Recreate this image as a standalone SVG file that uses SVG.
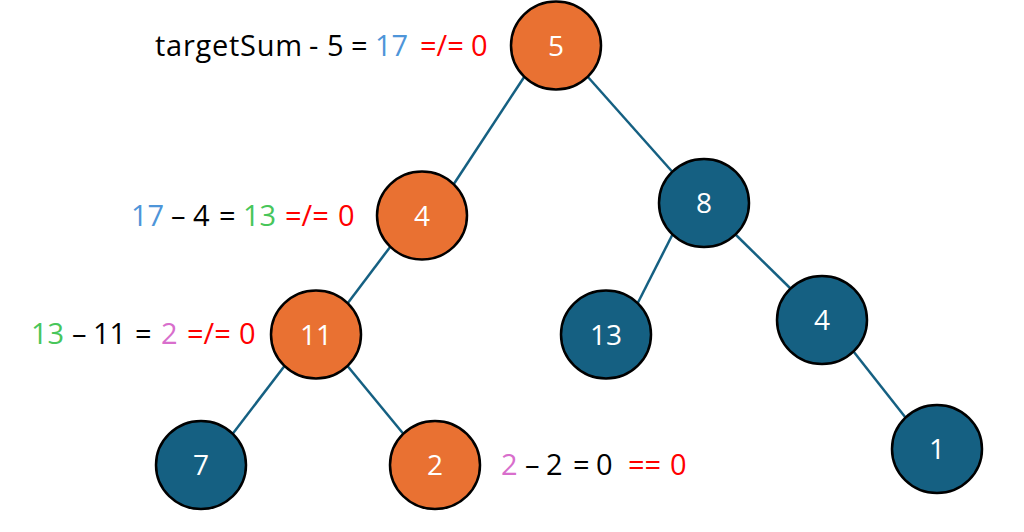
<svg xmlns="http://www.w3.org/2000/svg" width="1024" height="532" viewBox="0 0 1024 532">
<style>
.bg{fill:#ffffff}
.edge{stroke:#156082;stroke-width:2.5;fill:none}
.node{stroke:#000000;stroke-width:2.5}
.on{fill:#E97132}
.bn{fill:#156082}
.nt{font-family:"Open Sans","Liberation Sans",Arial,sans-serif;font-size:28px;fill:#ffffff;text-anchor:middle}
.lbl{font-family:"Open Sans","Liberation Sans",Arial,sans-serif;font-size:29px;fill:#000000}
.blue{fill:#4E95D9}
.green{fill:#47C65A}
.pink{fill:#D86ECC}
.red{fill:#FF0000}
</style>
<rect class="bg" x="0" y="0" width="1024" height="532"/>
<g id="connectors">
<line class="edge" x1="524.5" y1="76.5" x2="453.5" y2="184.5"/>
<line class="edge" x1="587.5" y1="76.5" x2="672.5" y2="172"/>
<line class="edge" x1="390.5" y1="246.5" x2="347.5" y2="303.5"/>
<line class="edge" x1="672.5" y1="234.5" x2="637.5" y2="303.5"/>
<line class="edge" x1="735.5" y1="234.5" x2="790.5" y2="288.5"/>
<line class="edge" x1="853.5" y1="351.5" x2="905.5" y2="417.5"/>
<line class="edge" x1="284.5" y1="366" x2="232.5" y2="434"/>
<line class="edge" x1="347.5" y1="366" x2="403.5" y2="434"/>
</g>
<g id="node-5"><ellipse class="node on" cx="556" cy="45.5" rx="45" ry="44"/><text class="nt" x="556" y="55.5">5</text></g>
<g id="node-4a"><ellipse class="node on" cx="422" cy="215.5" rx="45" ry="44"/><text class="nt" x="422" y="225.5">4</text></g>
<g id="node-8"><ellipse class="node bn" cx="704" cy="203" rx="45" ry="44"/><text class="nt" x="704" y="213">8</text></g>
<g id="node-11"><ellipse class="node on" cx="316" cy="334.5" rx="45" ry="44"/><text class="nt" x="316" y="344.5">11</text></g>
<g id="node-13"><ellipse class="node bn" cx="606" cy="334.5" rx="45" ry="44"/><text class="nt" x="606" y="344.5">13</text></g>
<g id="node-4b"><ellipse class="node bn" cx="822" cy="320" rx="45" ry="44"/><text class="nt" x="822" y="330">4</text></g>
<g id="node-7"><ellipse class="node bn" cx="201" cy="465" rx="45" ry="44"/><text class="nt" x="201" y="475">7</text></g>
<g id="node-2"><ellipse class="node on" cx="435" cy="465" rx="45" ry="44"/><text class="nt" x="435" y="475">2</text></g>
<g id="node-1"><ellipse class="node bn" cx="937" cy="449" rx="45" ry="44"/><text class="nt" x="937" y="459">1</text></g>
<g id="label-1">
<text class="lbl" y="55.5"><tspan x="155" textLength="147" lengthAdjust="spacing">targetSum</tspan><tspan x="309">-</tspan><tspan x="327">5</tspan><tspan x="351">=</tspan><tspan class="blue" x="375">17</tspan><tspan class="red" x="420">=/=</tspan><tspan class="red" x="471">0</tspan></text>
</g>
<g id="label-2">
<text class="lbl" y="225.5"><tspan class="blue" x="131">17</tspan><tspan x="171">–</tspan><tspan x="193">4</tspan><tspan x="219">=</tspan><tspan class="green" x="243">13</tspan><tspan class="red" x="285">=/=</tspan><tspan class="red" x="338">0</tspan></text>
</g>
<g id="label-3">
<text class="lbl" y="344"><tspan class="green" x="31">13</tspan><tspan x="72">–</tspan><tspan x="93">11</tspan><tspan x="135">=</tspan><tspan class="pink" x="161">2</tspan><tspan class="red" x="187">=/=</tspan><tspan class="red" x="239">0</tspan></text>
</g>
<g id="label-4">
<text class="lbl" y="475"><tspan class="pink" x="501">2</tspan><tspan x="525">–</tspan><tspan x="546">2</tspan><tspan x="573">=</tspan><tspan x="596">0</tspan><tspan class="red" x="628">==</tspan><tspan class="red" x="670">0</tspan></text>
</g>
</svg>
